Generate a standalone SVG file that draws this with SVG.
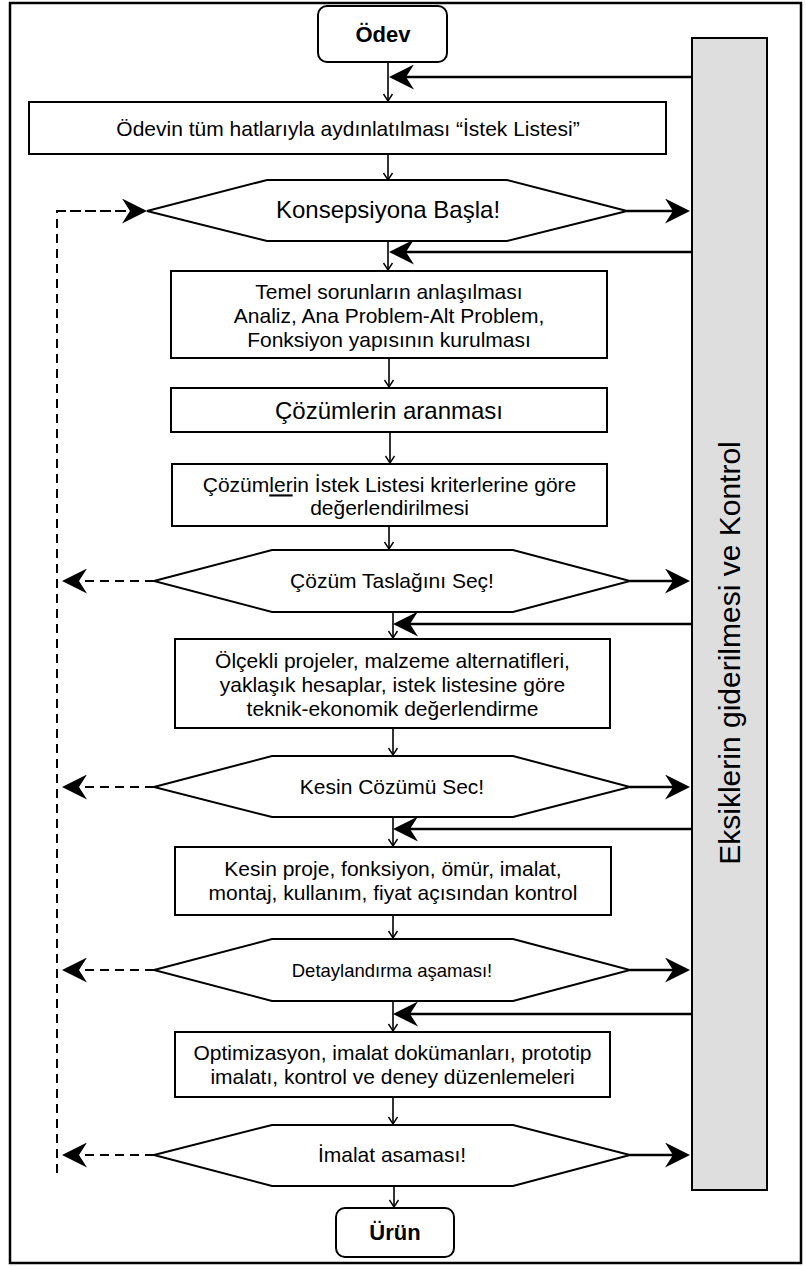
<svg xmlns="http://www.w3.org/2000/svg" width="806" height="1266" viewBox="0 0 806 1266">
<style>
text{font-family:"Liberation Sans",Arial,sans-serif;fill:#000;text-anchor:middle}
.b{font-weight:bold;font-size:22px}
.t21{font-size:21px}
.t24{font-size:24px}
.t18{font-size:18.5px}
.box{fill:#fff;stroke:#000;stroke-width:2}
.hex{fill:#fff;stroke:#000;stroke-width:2}
.v{fill:none;stroke:#000;stroke-width:1.6;marker-end:url(#sm)}
.h{fill:none;stroke:#000;stroke-width:2.7;marker-end:url(#big)}
.d{fill:none;stroke:#000;stroke-width:2;stroke-dasharray:9 6}
.da{fill:none;stroke:#000;stroke-width:2;stroke-dasharray:9 6;marker-end:url(#big)}
</style>
<defs>
<marker id="big" viewBox="0 0 25 25" refX="8" refY="12.5" markerWidth="25" markerHeight="25" markerUnits="userSpaceOnUse" orient="auto">
<path d="M0,0 L25,12.5 L0,25 L8,12.5 Z" fill="#000"/>
</marker>
<marker id="sm" viewBox="-8 -6 10 12" refX="0" refY="0" markerWidth="10" markerHeight="12" markerUnits="userSpaceOnUse" orient="auto">
<path d="M-7,-4.5 L0,0 L-7,4.5" fill="none" stroke="#000" stroke-width="1.4"/>
</marker>
</defs>
<rect x="10" y="3" width="791" height="1260" fill="#fff" stroke="#000" stroke-width="2.5"/>

<g id="bar">
<rect x="692" y="38" width="75" height="1152" fill="#dedede" stroke="#000" stroke-width="2"/>
<text font-size="30" transform="translate(740,653) rotate(-90)">Eksiklerin giderilmesi ve Kontrol</text>
</g>

<g id="connectors">
<path class="v" d="M388,62 V101"/>
<path class="v" d="M388,154 V180"/>
<path class="v" d="M388,241 V270"/>
<path class="v" d="M389,358 V387"/>
<path class="v" d="M390,432 V463"/>
<path class="v" d="M389,526 V549"/>
<path class="v" d="M393,612 V638"/>
<path class="v" d="M393,728 V755"/>
<path class="v" d="M393,817 V846"/>
<path class="v" d="M393,915 V938"/>
<path class="v" d="M393,1001 V1031"/>
<path class="v" d="M393,1097 V1124"/>
<path class="v" d="M394,1186 V1207"/>

<path class="h" d="M692,77 H406"/>
<path class="h" d="M692,252 H406"/>
<path class="h" d="M692,624 H410"/>
<path class="h" d="M692,829 H410"/>
<path class="h" d="M692,1014 H410"/>

<path class="h" d="M627,211 H673"/>
<path class="h" d="M630,581 H673"/>
<path class="h" d="M630,787 H673"/>
<path class="h" d="M630,970 H673"/>
<path class="h" d="M630,1155 H673"/>

<path class="d" d="M57,1173 V211 H120"/>
<path class="da" d="M57,211 H130"/>
<path class="da" d="M154,581 H79"/>
<path class="da" d="M154,787 H79"/>
<path class="da" d="M154,970 H79"/>
<path class="da" d="M154,1155 H79"/>
</g>

<g id="odev">
<rect class="box" x="318" y="6" width="129" height="56" rx="9"/>
<text class="b" x="383" y="41.7">Ödev</text>
</g>

<g id="istek">
<rect class="box" x="29" y="102" width="637" height="52"/>
<text class="t21" x="348" y="135.5" font-size="21.5">Ödevin tüm hatlarıyla aydınlatılması “İstek Listesi”</text>
</g>

<g id="konsepsiyon">
<polygon class="hex" points="147,211 267,180 507,180 627,211 507,241 267,241"/>
<text class="t24" x="388" y="218.4">Konsepsiyona Başla!</text>
</g>

<g id="temel">
<rect class="box" x="171" y="271" width="436" height="87"/>
<text class="t21" x="389" y="299.4">Temel sorunların anlaşılması</text>
<text class="t21" x="389" y="323.4">Analiz, Ana Problem-Alt Problem,</text>
<text class="t21" x="389" y="347.4">Fonksiyon yapısının kurulması</text>
</g>

<g id="arama">
<rect class="box" x="171" y="388" width="436" height="44"/>
<text class="t24" x="389" y="419.4">Çözümlerin aranması</text>
</g>

<g id="degerlendirme">
<rect class="box" x="172" y="464" width="435" height="62"/>
<text class="t21" x="389.5" y="492.4">Çözüm<tspan text-decoration="underline">ler</tspan>in İstek Listesi kriterlerine göre</text>
<text class="t21" x="389.5" y="515.4">değerlendirilmesi</text>
</g>

<g id="taslak">
<polygon class="hex" points="154,581 272,550 513,550 630,581 513,612 272,612"/>
<text class="t21" x="392" y="588.4">Çözüm Taslağını Seç!</text>
</g>

<g id="olcekli">
<rect class="box" x="175" y="639" width="435" height="89"/>
<text class="t21" x="392.5" y="668.4">Ölçekli projeler, malzeme alternatifleri,</text>
<text class="t21" x="392.5" y="692.4">yaklaşık hesaplar, istek listesine göre</text>
<text class="t21" x="392.5" y="716.4">teknik-ekonomik değerlendirme</text>
</g>

<g id="kesin">
<polygon class="hex" points="154,787 272,756 513,756 630,787 513,817 272,817"/>
<text class="t21" x="392" y="794.4">Kesin Cözümü Sec!</text>
</g>

<g id="kesinproje">
<rect class="box" x="175" y="847" width="436" height="68"/>
<text class="t21" x="393" y="876.4">Kesin proje, fonksiyon, ömür, imalat,</text>
<text class="t21" x="393" y="900.4">montaj, kullanım, fiyat açısından kontrol</text>
</g>

<g id="detay">
<polygon class="hex" points="154,970 272,939 513,939 630,970 513,1001 272,1001"/>
<text class="t18" x="392" y="976.5">Detaylandırma aşaması!</text>
</g>

<g id="optimizasyon">
<rect class="box" x="175" y="1032" width="435" height="65"/>
<text class="t21" x="392.5" y="1059.9">Optimizasyon, imalat dokümanları, prototip</text>
<text class="t21" x="392.5" y="1083.9">imalatı, kontrol ve deney düzenlemeleri</text>
</g>

<g id="imalat">
<polygon class="hex" points="154,1155 272,1125 513,1125 630,1155 513,1186 272,1186"/>
<text class="t21" x="392" y="1162.4">İmalat asaması!</text>
</g>

<g id="urun">
<rect class="box" x="336" y="1208" width="118" height="49" rx="9"/>
<text class="b" x="395" y="1239.7">Ürün</text>
</g>
</svg>
